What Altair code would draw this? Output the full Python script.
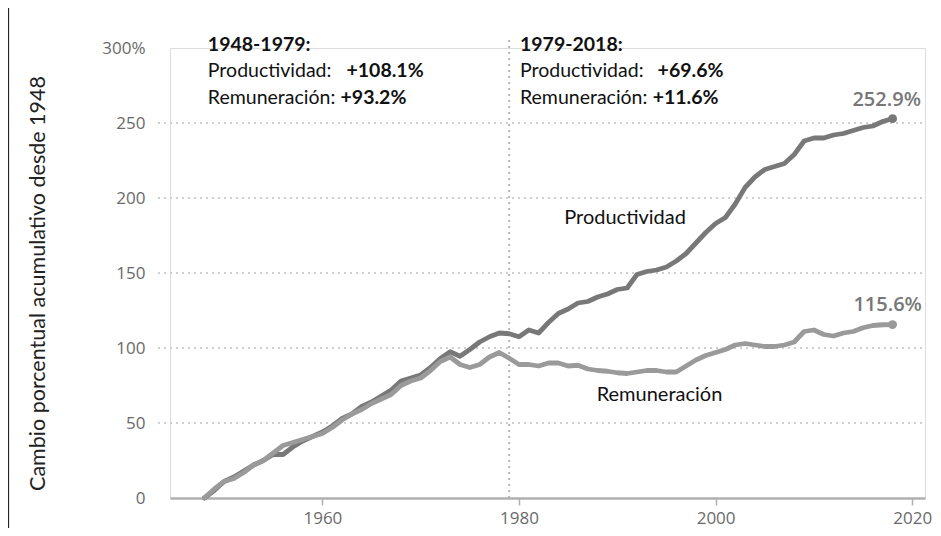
import altair as alt
import pandas as pd

years = list(range(1948, 2019))
productividad = [0, 5, 11, 14, 18, 22, 25, 29, 29, 34,
                 38, 41, 44, 48, 53, 56, 61, 64, 68, 72,
                 78, 80, 82, 87, 93, 97.5, 94.5, 99, 104, 107.5,
                 110, 109.5, 107.5, 112, 110, 117, 123, 126, 130, 131,
                 134, 136, 139, 140, 149, 151, 152, 154, 158, 163,
                 170, 177, 183, 187, 196, 207, 214, 219, 221, 223,
                 229, 238, 240, 240, 242, 243, 245, 247, 248, 251,
                 252.9]
remuneracion = [0, 6, 11, 13, 17, 22, 25, 30, 35, 37,
                39, 41, 43, 47, 52, 56, 59, 63, 66, 69,
                75, 78, 80, 85, 91, 94, 89, 87, 89, 94,
                97, 93.2, 89, 89, 88, 90, 90, 88, 88.5, 86,
                85, 84.5, 83.5, 83, 84, 85, 85, 84, 84, 88,
                92, 95, 97, 99, 102, 103, 102, 101, 101, 102,
                104, 111, 112, 109, 108, 110, 111, 113.5, 115, 115.5,
                115.6]

series_names = ["Productividad", "Remuneración"]
series_colors = ["#787878", "#9a9a9a"]
end_labels = ["252.9%", "115.6%"]

grid_values = [50, 100, 150, 200, 250]
y_ticks = [0, 50, 100, 150, 200, 250, 300]
x_ticks = [1960, 1980, 2000, 2020]

# annotation texts: text, year, value, weight
ann_text = ["1948-1979:", "Productividad: ", "+108.1%", "Remuneración: ", "+93.2%",
            "1979-2018:", "Productividad: ", "+69.6%", "Remuneración: ", "+11.6%"]
ann_year = [1948.35, 1948.35, 1962.45, 1948.35, 1961.85,
            1980.1, 1980.1, 1994.1, 1980.1, 1993.6]
ann_value = [302, 284.7, 284.7, 266.7, 266.7,
             302, 284.7, 284.7, 266.7, 266.7]
ann_weight = ["bold", "normal", "bold", "normal", "bold",
              "bold", "normal", "bold", "normal", "bold"]

series_label_year = [1984.6, 1987.9]
series_label_value = [186.7, 68.7]

end_label_year = [2017.4, 2017.5]
end_label_value = [265.3, 128.7]

df = pd.DataFrame({
    "year": years * 2,
    "value": productividad + remuneracion,
    "serie": ["Productividad"] * len(years) + ["Remuneración"] * len(years),
})
ends = pd.DataFrame({
    "year": [years[-1], years[-1]],
    "value": [productividad[-1], remuneracion[-1]],
    "serie": series_names,
})
end_lab = pd.DataFrame({"year": end_label_year, "value": end_label_value, "text": end_labels})
ser_lab = pd.DataFrame({"year": series_label_year, "value": series_label_value, "text": series_names})
ann = pd.DataFrame({"year": ann_year, "value": ann_value, "text": ann_text, "weight": ann_weight})
grid = pd.DataFrame({"year": [1944.5] * len(grid_values), "value": grid_values})
vline = pd.DataFrame({"year": [1979], "value": [0], "value2": [307]})

xscale = alt.Scale(domain=[1944.5, 2021.3], nice=False, zero=False)
yscale = alt.Scale(domain=[0, 300], nice=False)

x_axis = alt.Axis(values=x_ticks, format="d", title=None, grid=False,
                  domainColor="#b0b0b0", domainWidth=2.5,
                  tickColor="#b0b0b0", tickSize=7, tickWidth=1.5,
                  labelFont="Open Sans", labelFontSize=17, labelFontWeight=500,
                  labelColor="#6a6a6a", labelPadding=5)
y_axis = alt.Axis(values=y_ticks, grid=False, domain=False, ticks=False,
                  labelExpr="datum.value == 300 ? '300%' : datum.label",
                  labelFont="Open Sans", labelFontSize=17, labelFontWeight=500,
                  labelColor="#6a6a6a", labelPadding=25,
                  title="Cambio porcentual acumulativo desde 1948",
                  titleFont="Lato", titleFontSize=21.5, titleFontWeight="normal",
                  titleColor="#222222", titleX=-132, titleY=235, titleAngle=-90,
                  titleAlign="center", titleBaseline="middle")

X = alt.X("year:Q", scale=xscale, axis=x_axis)
Y = alt.Y("value:Q", scale=yscale, axis=y_axis)
color = alt.Color("serie:N", scale=alt.Scale(domain=series_names, range=series_colors), legend=None)

grid_layer = alt.Chart(grid).mark_rule(strokeDash=[2, 4], strokeWidth=2, color="#cfcfcf").encode(
    y=Y, x=alt.value(-12), x2=alt.value(755),
)

vline_layer = alt.Chart(vline).mark_rule(strokeDash=[2, 4], strokeWidth=2, color="#b5b5b5").encode(
    x=X, y=Y, y2="value2:Q",
)

lines = alt.Chart(df).mark_line(strokeWidth=4.8, strokeCap="round", strokeJoin="round").encode(
    x=X, y=Y, color=color, detail="serie:N",
)

points = alt.Chart(ends).mark_circle(size=80, opacity=1).encode(x=X, y=Y, color=color)

end_text = alt.Chart(end_lab).mark_text(font="Open Sans", fontSize=20, fontWeight=600,
                                        color="#777777", align="center", baseline="middle").encode(
    x=X, y=Y, text="text:N",
)

ser_text = alt.Chart(ser_lab).mark_text(font="Lato", fontSize=20, color="#111111",
                                        align="left", baseline="middle").encode(
    x=X, y=Y, text="text:N",
)

ann_normal = alt.Chart(ann).transform_filter("datum.weight == 'normal'").mark_text(
    font="Lato", fontSize=19.5, color="#111111", align="left", baseline="middle").encode(
    x=X, y=Y, text="text:N",
)
ann_bold = alt.Chart(ann).transform_filter("datum.weight == 'bold'").mark_text(
    font="Lato", fontSize=19.5, fontWeight="bold", color="#111111", align="left", baseline="middle").encode(
    x=X, y=Y, text="text:N",
)

border = alt.Chart(grid).transform_filter("datum.value == 50").mark_rule(color="#222222", strokeWidth=1.2).encode(
    x=alt.value(-161.5), y=alt.value(-40), y2=alt.value(490),
)

chart = alt.layer(
    grid_layer, vline_layer, lines, points, end_text, ser_text, ann_normal, ann_bold, border
).properties(
    width=755, height=450,
    autosize=alt.AutoSizeParams(type="none"),
    padding={"left": 162, "top": 40, "right": 8, "bottom": 30},
).configure_view(stroke=None).configure(background="white")

chart.save("out.html", embed_options={"renderer": "svg", "actions": False})
